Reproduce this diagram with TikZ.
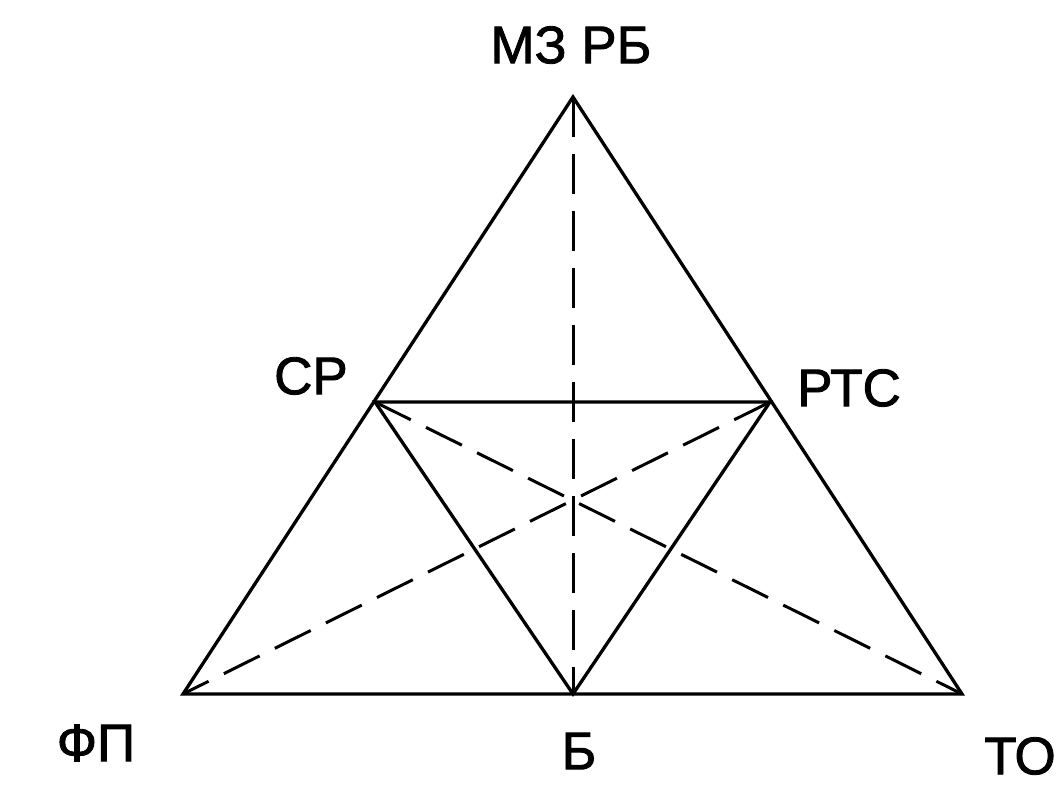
\documentclass[tikz,border=0pt]{standalone}
\usepackage{fontspec}
\setmainfont[FakeBold=1.6]{Liberation Sans}
\begin{document}
\begin{tikzpicture}[x=1pt,y=-1pt,
  edge/.style={line width=3.3pt,line join=miter,line cap=butt},
  dashedge/.style={line width=3.0pt,dash pattern=on 40pt off 17pt},
  lbl/.style={font=\fontsize{53}{53}\selectfont,inner sep=0pt}]
\useasboundingbox[fill=white] (0,0) rectangle (1060,786);
\coordinate (T) at (573,97);
\coordinate (L) at (183,694);
\coordinate (R) at (962,694);
\coordinate (ML) at (375,402);
\coordinate (MR) at (770,402);
\coordinate (MB) at (573,694);
\draw[edge] (T) -- (L) -- (R) -- cycle;
\draw[edge] (ML) -- (MR) -- (MB) -- cycle;
\draw[dashedge] (T) -- (MB);
\draw[dashedge] (ML) -- (R);
\draw[dashedge] (MR) -- (L);
\node[lbl] (mz) at (571,45) {МЗ РБ};
\node[lbl] (sr) at (311,376) {СР};
\node[lbl] (rts) at (849,388) {РТС};
\node[lbl] (fp) at (96,743) {ФП};
\node[lbl] (b) at (579,751) {Б};
\node[lbl] (to) at (1020,756) {ТО};
\end{tikzpicture}
\end{document}
